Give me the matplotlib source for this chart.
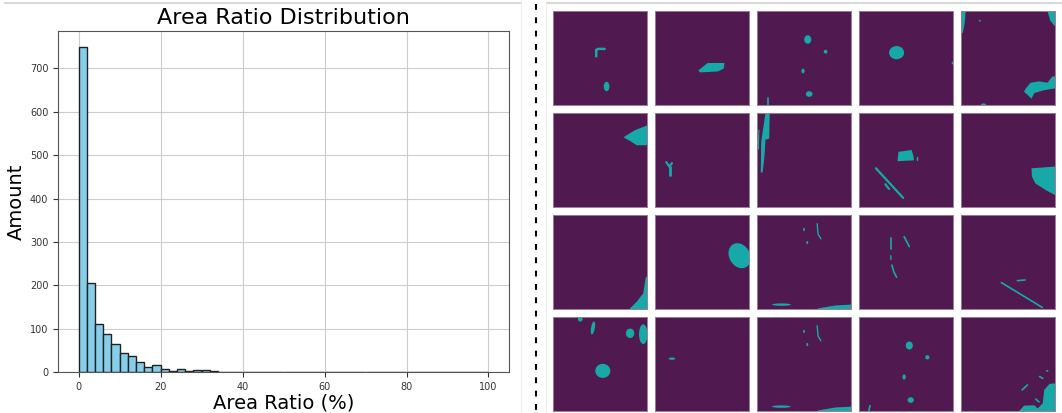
import numpy as np
import matplotlib
matplotlib.use("Agg")
import matplotlib.pyplot as plt
from matplotlib.patches import Polygon, Ellipse
from matplotlib.lines import Line2D

# histogram data: 50 bins of 2% over 0..100
bin_edges = np.linspace(0, 100, 51)
area_counts = [749, 206, 110, 88, 65, 44, 37, 23, 12, 16,
               6, 2, 6, 2, 4, 4, 2, 1, 1, 1,
               1, 1, 0, 1, 0, 0, 0, 0, 0, 0,
               0, 0, 1, 0, 1, 1, 0, 0, 1, 0,
               0, 0, 0, 0, 0, 0, 1, 0, 0, 1]

# mask examples, 4 rows x 5 cols, coordinates in panel units (0..1, y down)
# polygons: (panel, [points])
mask_polys = [
    (1, [(0.46, 0.63), (0.56, 0.55), (0.74, 0.55), (0.73, 0.61), (0.67, 0.64), (0.48, 0.65)]),
    (4, [(0.69, 0.82), (0.74, 0.76), (0.83, 0.745), (0.92, 0.76), (0.97, 0.695), (1.0, 0.69),
         (1.0, 0.82), (0.88, 0.84), (0.78, 0.87), (0.75, 0.93), (0.71, 0.89), (0.67, 0.855)]),
    (4, [(0.0, 0.0), (0.05, 0.0), (0.04, 0.12), (0.02, 0.23), (0.0, 0.23)]),
    (4, [(0.92, 0.0), (1.0, 0.0), (1.0, 0.16), (0.95, 0.1)]),
    (5, [(0.75, 0.255), (0.87, 0.18), (1.0, 0.13), (1.0, 0.34), (0.89, 0.34), (0.83, 0.30)]),
    (7, [(0.09, 0.0), (0.135, 0.0), (0.13, 0.27), (0.09, 0.28), (0.08, 0.45), (0.06, 0.63),
         (0.04, 0.63), (0.045, 0.3), (0.06, 0.2)]),
    (8, [(0.41, 0.51), (0.42, 0.41), (0.56, 0.39), (0.58, 0.46), (0.585, 0.50)]),
    (9, [(0.75, 0.585), (1.0, 0.567), (1.0, 0.87), (0.90, 0.816), (0.79, 0.745), (0.755, 0.674)]),
    (10, [(0.81, 1.0), (0.89, 0.92), (0.96, 0.83), (0.985, 0.67), (1.0, 0.645), (1.0, 1.0)]),
    (12, [(0.65, 0.99), (0.83, 0.96), (1.0, 0.95), (1.0, 1.0), (0.65, 1.0)]),
    (17, [(0.65, 0.99), (0.83, 0.96), (1.0, 0.95), (1.0, 1.0), (0.65, 1.0)]),
    (19, [(0.617, 1.0), (0.67, 0.94), (0.78, 0.936), (0.815, 0.97), (0.87, 0.915), (0.885, 0.773),
          (0.94, 0.709), (1.0, 0.702), (1.0, 1.0)]),
]
# ellipses: (panel, cx, cy, w, h, angle)
mask_blobs = [
    (0, 0.57, 0.80, 0.06, 0.10, 0),
    (2, 0.54, 0.30, 0.075, 0.09, 0),
    (2, 0.73, 0.43, 0.04, 0.04, 0),
    (2, 0.49, 0.635, 0.035, 0.05, 0),
    (2, 0.555, 0.88, 0.07, 0.06, 0),
    (3, 0.40, 0.44, 0.16, 0.14, 0),
    (3, 1.0, 0.55, 0.03, 0.03, 0),
    (4, 0.20, 0.10, 0.02, 0.02, 0),
    (4, 0.24, 1.0, 0.06, 0.04, 0),
    (11, 0.90, 0.43, 0.22, 0.28, -30),
    (12, 0.26, 0.95, 0.2, 0.025, 0),
    (12, 0.50, 0.15, 0.02, 0.035, 0),
    (12, 0.535, 0.29, 0.02, 0.035, 0),
    (15, 0.29, 0.02, 0.05, 0.05, 0),
    (15, 0.425, 0.113, 0.04, 0.14, 10),
    (15, 0.82, 0.17, 0.09, 0.10, 0),
    (15, 0.96, 0.18, 0.09, 0.21, 0),
    (15, 0.53, 0.57, 0.16, 0.15, 0),
    (16, 0.18, 0.44, 0.07, 0.025, 0),
    (17, 0.26, 0.95, 0.2, 0.025, 0),
    (17, 0.50, 0.15, 0.02, 0.035, 0),
    (17, 0.535, 0.29, 0.02, 0.035, 0),
    (18, 0.535, 0.30, 0.075, 0.085, 0),
    (18, 0.727, 0.426, 0.045, 0.045, 0),
    (18, 0.48, 0.635, 0.035, 0.055, 0),
    (18, 0.55, 0.88, 0.065, 0.06, 0),
    (19, 0.918, 0.57, 0.025, 0.02, 0),
]
# thin strokes: (panel, [points], linewidth)
mask_strokes = [
    (0, [(0.46, 0.48), (0.46, 0.41), (0.48, 0.40), (0.55, 0.40)], 1.8),
    (2, [(0.12, 0.92), (0.12, 1.0)], 1.2),
    (6, [(0.12, 0.52), (0.155, 0.57), (0.18, 0.53)], 1.6),
    (6, [(0.155, 0.57), (0.155, 0.66)], 2.0),
    (7, [(0.02, 0.18), (0.015, 0.38)], 0.8),
    (8, [(0.62, 0.46), (0.62, 0.50)], 1.0),
    (8, [(0.18, 0.585), (0.47, 0.90)], 1.6),
    (8, [(0.28, 0.755), (0.32, 0.805)], 1.6),
    (12, [(0.64, 0.09), (0.65, 0.2), (0.68, 0.25)], 1.0),
    (13, [(0.337, 0.245), (0.337, 0.362)], 1.2),
    (13, [(0.48, 0.227), (0.535, 0.333)], 1.2),
    (13, [(0.337, 0.43), (0.34, 0.47)], 1.0),
    (13, [(0.35, 0.53), (0.37, 0.60), (0.40, 0.66)], 1.2),
    (14, [(0.43, 0.716), (0.865, 0.98)], 1.2),
    (14, [(0.60, 0.695), (0.68, 0.688)], 1.2),
    (17, [(0.64, 0.09), (0.65, 0.2), (0.68, 0.25)], 1.0),
    (18, [(0.117, 0.94), (0.103, 1.0)], 1.2),
    (19, [(0.65, 0.773), (0.706, 0.72)], 1.2),
    (19, [(0.837, 0.63), (0.87, 0.65)], 1.2),
    (19, [(0.795, 0.87), (0.83, 0.9)], 1.2),
]

W, H = 1062, 413
bg_color = "#501a50"
fg_color = "#16a9a8"

fig = plt.figure(figsize=(W / 100, H / 100), dpi=100)

# LEFT: HISTOGRAM
ax = fig.add_axes([58 / W, 1 - 372 / H, 451 / W, 341 / H])
centers = (bin_edges[:-1] + bin_edges[1:]) / 2
ax.hist(centers, bins=bin_edges, weights=area_counts,
        color="skyblue", edgecolor="#222222", linewidth=1.0)
ax.grid(True, color="#cccccc", linewidth=0.8)
ax.set_axisbelow(True)
ax.set_title("Area Ratio Distribution", fontsize=16, pad=5)
ax.set_xlabel("Area Ratio (%)", fontsize=14, labelpad=1)
ax.set_ylabel("Amount", fontsize=14, labelpad=3)
ax.tick_params(labelsize=7, colors="#333333", length=3.5)
for s in ax.spines.values():
    s.set_color("#555555")

# RIGHT: MASK SAMPLES
panels = []
for r in range(4):
    for c in range(5):
        x0 = 553 + c * 102
        y0 = 11.3 + r * 102
        pa = fig.add_axes([x0 / W, 1 - (y0 + 94) / H, 94 / W, 94 / H])
        pa.set_facecolor(bg_color)
        pa.set_xlim(0, 1)
        pa.set_ylim(1, 0)
        pa.set_xticks([])
        pa.set_yticks([])
        for s in pa.spines.values():
            s.set_color("#9c7a9c")
            s.set_linewidth(0.7)
        panels.append(pa)

for idx, pts in mask_polys:
    panels[idx].add_patch(Polygon(pts, closed=True, facecolor=fg_color, edgecolor="none"))
for idx, cx, cy, w, h, ang in mask_blobs:
    panels[idx].add_patch(Ellipse((cx, cy), w, h, angle=ang, facecolor=fg_color, edgecolor="none"))
for idx, pts, lw in mask_strokes:
    xs = [p[0] for p in pts]
    ys = [p[1] for p in pts]
    panels[idx].plot(xs, ys, color=fg_color, linewidth=lw, solid_capstyle="round")

# FRAME LINES AND DIVIDER
fig.add_artist(Line2D([5 / W, 520 / W], [1 - 3 / H, 1 - 3 / H], color="#d0d0d0", lw=1.2))
fig.add_artist(Line2D([547 / W, 1.0], [1 - 3 / H, 1 - 3 / H], color="#d0d0d0", lw=1.2))
fig.add_artist(Line2D([520.5 / W, 520.5 / W], [0, 1], color="#eeeeee", lw=0.8))
fig.add_artist(Line2D([546 / W, 546 / W], [0, 1 - 3 / H], color="#eeeeee", lw=0.8))
fig.add_artist(Line2D([536 / W, 536 / W], [1 - 4 / H, 0], color="black", lw=1.5,
                      linestyle=(0, (2.8, 3.6))))

fig.savefig("out.png", dpi=100)
